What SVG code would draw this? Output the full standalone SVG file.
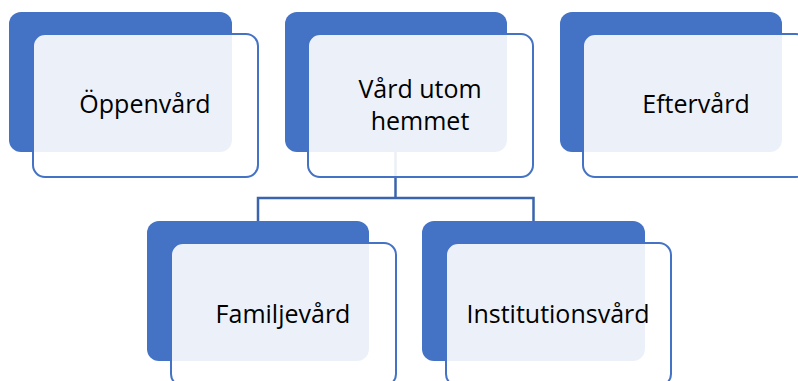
<svg xmlns="http://www.w3.org/2000/svg" width="798" height="381" viewBox="0 0 798 381">
<style>
.back{fill:#4472C4}
.front{fill:#FFFFFF;fill-opacity:0.9;stroke:#4472C4;stroke-width:2}
.lbl{font-family:"Open Sans","Noto Sans",sans-serif;font-size:25px;fill:#000;text-anchor:middle}
.conn{fill:none;stroke:#3B64AE;stroke-width:2.5}
</style>
<rect width="798" height="381" fill="#FFFFFF"/>
<g id="connectors">
<path class="conn" d="M395.5,152 V198 M258,221 V198 H533.5 V221"/>
</g>
<g id="node-oppenvard">
<rect class="back" x="9" y="12" width="223" height="140" rx="12"/>
<rect class="front" x="33" y="34" width="225" height="143" rx="12"/>
<text class="lbl" x="145" y="113">Öppenvård</text>
</g>
<g id="node-vard-utom-hemmet">
<rect class="back" x="285" y="12" width="222" height="140" rx="12"/>
<rect class="front" x="308" y="34" width="225" height="143" rx="12"/>
<text class="lbl" x="420" y="98">Vård utom</text>
<text class="lbl" x="420" y="130">hemmet</text>
</g>
<g id="node-eftervard">
<rect class="back" x="560" y="12" width="222" height="140" rx="12"/>
<rect class="front" x="583" y="34" width="225" height="143" rx="12"/>
<text class="lbl" x="696" y="113">Eftervård</text>
</g>
<g id="node-familjevard">
<rect class="back" x="147" y="221" width="222" height="140" rx="12"/>
<rect class="front" x="171" y="243" width="225" height="143" rx="12"/>
<text class="lbl" x="283" y="323">Familjevård</text>
</g>
<g id="node-institutionsvard">
<rect class="back" x="422" y="221" width="223" height="140" rx="12"/>
<rect class="front" x="446" y="243" width="225" height="143" rx="12"/>
<text class="lbl" x="558" y="323">Institutionsvård</text>
</g>
</svg>
